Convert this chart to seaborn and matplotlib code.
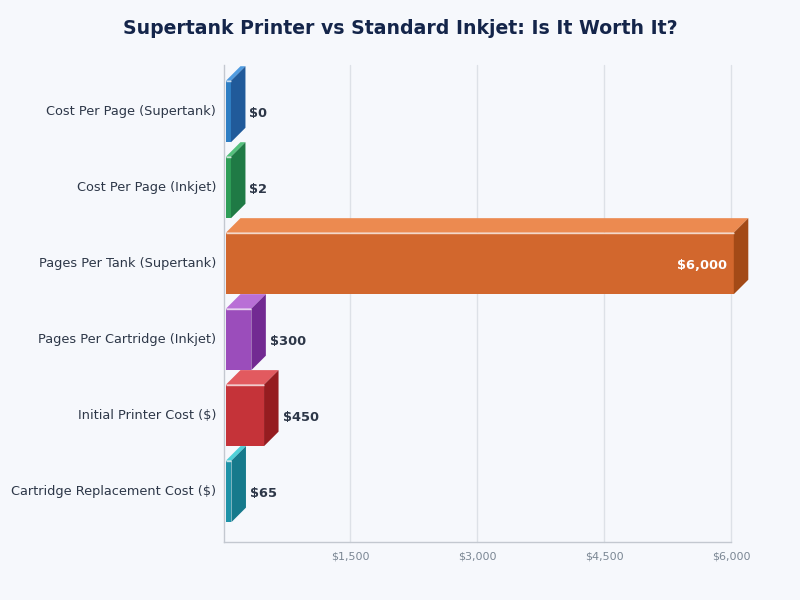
import matplotlib
matplotlib.use("Agg")
import matplotlib.pyplot as plt
import seaborn as sns
import pandas as pd
from matplotlib.patches import Polygon
from matplotlib.transforms import IdentityTransform, Affine2D
from matplotlib.ticker import FuncFormatter

title = "Supertank Printer vs Standard Inkjet: Is It Worth It?"
categories = ["Cost Per Page (Supertank)", "Cost Per Page (Inkjet)", "Pages Per Tank (Supertank)",
              "Pages Per Cartridge (Inkjet)", "Initial Printer Cost ($)", "Cartridge Replacement Cost ($)"]
values = [0.02, 2, 6000, 300, 450, 65]
labels = ["$0", "$2", "$6,000", "$300", "$450", "$65"]
front = ["#2f7fc4", "#2f9e58", "#d2672d", "#9b4dbb", "#c53339", "#1f93a8"]
top = ["#4f9be0", "#55c07c", "#ec8a50", "#b96fd6", "#e25a5f", "#4fd0d8"]
side = ["#205a9a", "#1f7a45", "#a34a17", "#722a92", "#951c20", "#167a8c"]
xticks = [1500, 3000, 4500, 6000]
BG = "#f6f8fc"

sns.set_theme(style="white")
fig = plt.figure(figsize=(8, 6), dpi=100, facecolor=BG)
ax = fig.add_axes([224/800, 1-541.5/600, (731-224)/800, 476.5/600], facecolor=BG)
df = pd.DataFrame({"category": categories, "value": values})
sns.barplot(data=df, x="value", y="category", hue="category", palette=front, legend=False,
            width=0.81, orient="h", ax=ax, saturation=1, zorder=3)
ax.set_xlim(10, 6000)
ax.set_ylim(5.66, -0.612)
ax.set_xticks(xticks)
ax.xaxis.set_major_formatter(FuncFormatter(lambda v, _: f"${v:,.0f}"))
ax.grid(axis="x", color="#dde1e7", lw=1, zorder=0)
for g in ax.get_xgridlines():
    g.set_clip_on(False)
ax.set_axisbelow(True)
ax.set_xlabel(""); ax.set_ylabel("")
for s in ["top", "right"]:
    ax.spines[s].set_visible(False)
for s in ["left", "bottom"]:
    ax.spines[s].set_color("#c3c8d0")
    ax.spines[s].set_linewidth(1)
ax.tick_params(axis="x", length=0, labelsize=8, labelcolor="#7b8794", pad=7)
ax.tick_params(axis="y", length=0, labelsize=9.3, labelcolor="#2d3748", pad=5.5)
for t in ax.get_yticklabels():
    t.set_verticalalignment("center")
    t.set_transform(t.get_transform() + Affine2D().translate(0, -0.5))
fig.text(0.5, 1-28/600, title, ha="center", va="center", fontsize=13.6, fontweight="bold", color="#14254a")

# pixel geometry for the 3D extrusion, applied to each data-driven bar
depth = 14.5
shift = 2.8
min_w = 5
to_px = ax.transData.transform
fig_tr = IdentityTransform()
for i, p in enumerate(ax.patches[:len(values)]):
    (x0, y0), (x1, y1) = to_px([(0, p.get_y()), (p.get_width(), p.get_y() + p.get_height())])
    ylo, yhi = min(y0, y1), max(y0, y1)
    xl = x0 + shift
    xr = xl + max(x1 - x0, min_w)
    p.set_visible(False)
    kw = dict(transform=fig_tr, clip_on=False, lw=0, zorder=4)
    ax.add_patch(Polygon([(xl, ylo), (xr, ylo), (xr, yhi), (xl, yhi)], facecolor=front[i], **kw))
    ax.add_patch(Polygon([(xl, yhi), (xr, yhi), (xr + depth, yhi + depth), (xl + depth, yhi + depth)], facecolor=top[i], **kw))
    ax.add_patch(Polygon([(xr, ylo), (xr + depth, ylo + depth), (xr + depth, yhi + depth), (xr, yhi)], facecolor=side[i], **kw))
    ax.plot([xl, xr], [yhi, yhi], color="white", alpha=0.75, lw=1, transform=fig_tr, clip_on=False, zorder=5,
            solid_capstyle="butt")
    ymid = (ylo + yhi) / 2 - 2
    if values[i] > 3000:
        ax.text(xr - 7, ymid, labels[i], ha="right", va="center", color="white", fontsize=9.4,
                fontweight="bold", transform=fig_tr, zorder=6)
    else:
        ax.text(xr + depth + 4, ymid, labels[i], ha="left", va="center", color="#2d3748", fontsize=9.4,
                fontweight="bold", transform=fig_tr, zorder=6)
fig.savefig("out.png", dpi=100, facecolor=BG)
